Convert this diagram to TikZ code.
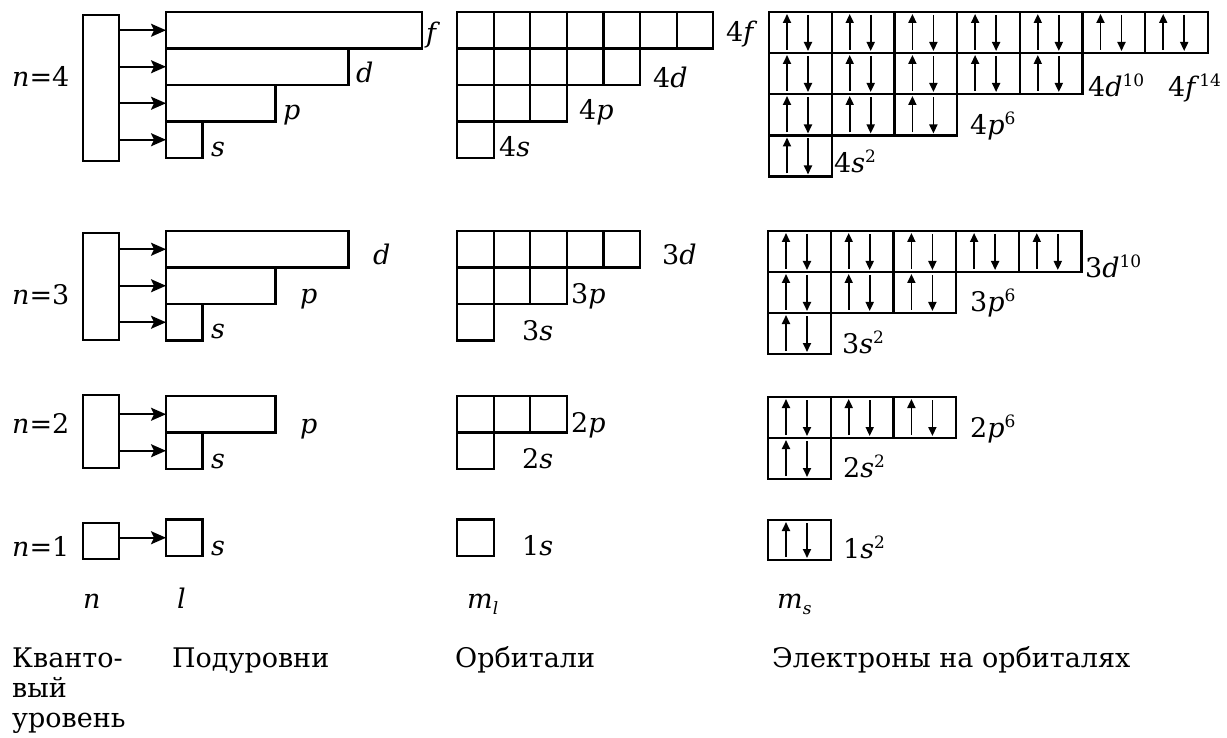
\documentclass[tikz,border=0pt]{standalone}
\usepackage{fontspec}
\setmainfont{DejaVu Serif}
\usetikzlibrary{arrows.meta}

% superscript and subscript indices
\newcommand\upidx[1]{\raisebox{10pt}{\fontsize{17}{17}\selectfont #1}}
\newcommand\lowidx[1]{\raisebox{-6pt}{\fontsize{17}{17}\selectfont\itshape #1}}

% a row of empty orbital cells: x0, y0, count
\newcommand\orbrow[3]{%
  \foreach \k in {1,...,#3}{%
    \pgfmathsetmacro\xa{#1+(\k-1)*36.6}%
    \draw[cell] (\xa,#2) rectangle ++(36.6,36.5);
  }}

% a row of filled orbital cells with paired spins: x0, y0, count, height
\newcommand\elrow[4]{%
  \foreach \k in {1,...,#3}{%
    \pgfmathsetmacro\xa{#1+(\k-1)*62.7}%
    \draw[cell] (\xa,#2) rectangle ++(62.7,#4);
    \draw[spin] (\xa+18,#2+#4-3) -- (\xa+18,#2+2);
    \draw[spin] (\xa+39,#2+3) -- (\xa+39,#2+#4-2);
  }}

\begin{document}
\begin{tikzpicture}[x=1pt,y=-1pt,
  cell/.style={line width=2.2pt},
  spin/.style={line width=1.8pt,-{Triangle[length=9pt,width=8pt]}},
  box/.style={draw,line width=2.2pt,inner sep=0pt,outer sep=0pt,anchor=north west},
  link/.style={line width=1.9pt,-{Stealth[length=15pt,width=13pt,inset=3pt]}},
  lab/.style={anchor=base west,inner sep=0pt,font=\fontsize{27}{31}\selectfont},
]
\useasboundingbox (0,0) rectangle (1227,738);

% ---------- n = 4 ----------
\node[box,minimum width=36pt,minimum height=146pt] (n4) at (83,15) {};
\node[box,minimum width=256pt,minimum height=36.5pt] (f4) at (166,12) {};
\node[box,minimum width=182.5pt,minimum height=36.5pt] (d4) at (166,48.5) {};
\node[box,minimum width=109.5pt,minimum height=36.5pt] (p4) at (166,85) {};
\node[box,minimum width=36.5pt,minimum height=36.5pt] (s4) at (166,121.5) {};
\draw[link] (n4.east |- f4.west) -- (f4.west);
\draw[link] (n4.east |- d4.west) -- (d4.west);
\draw[link] (n4.east |- p4.west) -- (p4.west);
\draw[link] (n4.east |- s4.west) -- (s4.west);
\node[lab] (ln4) at (12,87) {\textit{n}=4};
\node[lab] (lf4) at (426,43) {\textit{f}};
\node[lab] (ld4) at (356,83) {\textit{d}};
\node[lab] (lp4) at (283,120) {\textit{p}};
\node[lab] (ls4) at (211,157) {\textit{s}};

\orbrow{457}{12}{7}
\orbrow{457}{48.5}{5}
\orbrow{457}{85}{3}
\orbrow{457}{121.5}{1}
\node[lab] (o4f) at (726,42) {4\textit{f}};
\node[lab] (o4d) at (653,88) {4\textit{d}};
\node[lab] (o4p) at (579,120) {4\textit{p}};
\node[lab] (o4s) at (499,157) {4\textit{s}};

\elrow{769}{12}{7}{41}
\elrow{769}{53}{5}{41}
\elrow{769}{94}{3}{41.5}
\elrow{769}{135.5}{1}{41}
\node[lab] (e4d) at (1088,97) {4\textit{d}\upidx{10}};
\node[lab] (e4f) at (1168,97) {4\textit{f}\upidx{14}};
\node[lab] (e4p) at (970,135) {4\textit{p}\upidx{6}};
\node[lab] (e4s) at (834,173) {4\textit{s}\upidx{2}};

% ---------- n = 3 ----------
\node[box,minimum width=36pt,minimum height=107pt] (n3) at (83,233) {};
\node[box,minimum width=182.5pt,minimum height=36.5pt] (d3) at (166,231) {};
\node[box,minimum width=109.5pt,minimum height=36.5pt] (p3) at (166,267.5) {};
\node[box,minimum width=36.5pt,minimum height=36.5pt] (s3) at (166,304) {};
\draw[link] (n3.east |- d3.west) -- (d3.west);
\draw[link] (n3.east |- p3.west) -- (p3.west);
\draw[link] (n3.east |- s3.west) -- (s3.west);
\node[lab] (ln3) at (12,305) {\textit{n}=3};
\node[lab] (ld3) at (373,265) {\textit{d}};
\node[lab] (lp3) at (300,303) {\textit{p}};
\node[lab] (ls3) at (211,338) {\textit{s}};

\orbrow{457}{231}{5}
\orbrow{457}{267.5}{3}
\orbrow{457}{304}{1}
\node[lab] (o3d) at (662,265) {3\textit{d}};
\node[lab] (o3p) at (571,303) {3\textit{p}};
\node[lab] (o3s) at (522,340) {3\textit{s}};

\elrow{768}{231}{5}{41}
\elrow{768}{272}{3}{41}
\elrow{768}{313}{1}{41}
\node[lab] (e3d) at (1085,278) {3\textit{d}\upidx{10}};
\node[lab] (e3p) at (970,312) {3\textit{p}\upidx{6}};
\node[lab] (e3s) at (842,353) {3\textit{s}\upidx{2}};

% ---------- n = 2 ----------
\node[box,minimum width=36pt,minimum height=73pt] (n2) at (83,395) {};
\node[box,minimum width=109.5pt,minimum height=36.5pt] (p2) at (166,396) {};
\node[box,minimum width=36.5pt,minimum height=36.5pt] (s2) at (166,432.5) {};
\draw[link] (n2.east |- p2.west) -- (p2.west);
\draw[link] (n2.east |- s2.west) -- (s2.west);
\node[lab] (ln2) at (12,433) {\textit{n}=2};
\node[lab] (lp2) at (300,433) {\textit{p}};
\node[lab] (ls2) at (211,468) {\textit{s}};

\orbrow{457}{396}{3}
\orbrow{457}{432.5}{1}
\node[lab] (o2p) at (571,432) {2\textit{p}};
\node[lab] (o2s) at (522,468) {2\textit{s}};

\elrow{768}{397}{3}{41}
\elrow{768}{438}{1}{41}
\node[lab] (e2p) at (970,437) {2\textit{p}\upidx{6}};
\node[lab] (e2s) at (843,477) {2\textit{s}\upidx{2}};

% ---------- n = 1 ----------
\node[box,minimum width=36pt,minimum height=36pt] (n1) at (83,523) {};
\node[box,minimum width=36.5pt,minimum height=36.5pt] (s1) at (166,519.5) {};
\draw[link] (n1.east |- s1.west) -- (s1.west);
\node[lab] (ln1) at (12,556) {\textit{n}=1};
\node[lab] (ls1) at (211,555) {\textit{s}};

\orbrow{457}{519.5}{1}
\node[lab] (o1s) at (522,555) {1\textit{s}};

\elrow{768}{520}{1}{40}
\node[lab] (e1s) at (843,558) {1\textit{s}\upidx{2}};

% ---------- quantum numbers and column captions ----------
\node[lab] (qn) at (83,608) {\textit{n}};
\node[lab] (ql) at (177,608) {\textit{l}};
\node[lab] (qml) at (467,608) {\textit{m}\lowidx{l}};
\node[lab] (qms) at (777,608) {\textit{m}\lowidx{s}};

\node[lab] (c1a) at (12,667) {Кванто-};
\node[lab] (c1b) at (12,697) {вый};
\node[lab] (c1c) at (12,727) {уровень};
\node[lab] (c2) at (172,667) {Подуровни};
\node[lab] (c3) at (455,667) {Орбитали};
\node[lab] (c4) at (772,667) {Электроны на орбиталях};
\end{tikzpicture}
\end{document}
